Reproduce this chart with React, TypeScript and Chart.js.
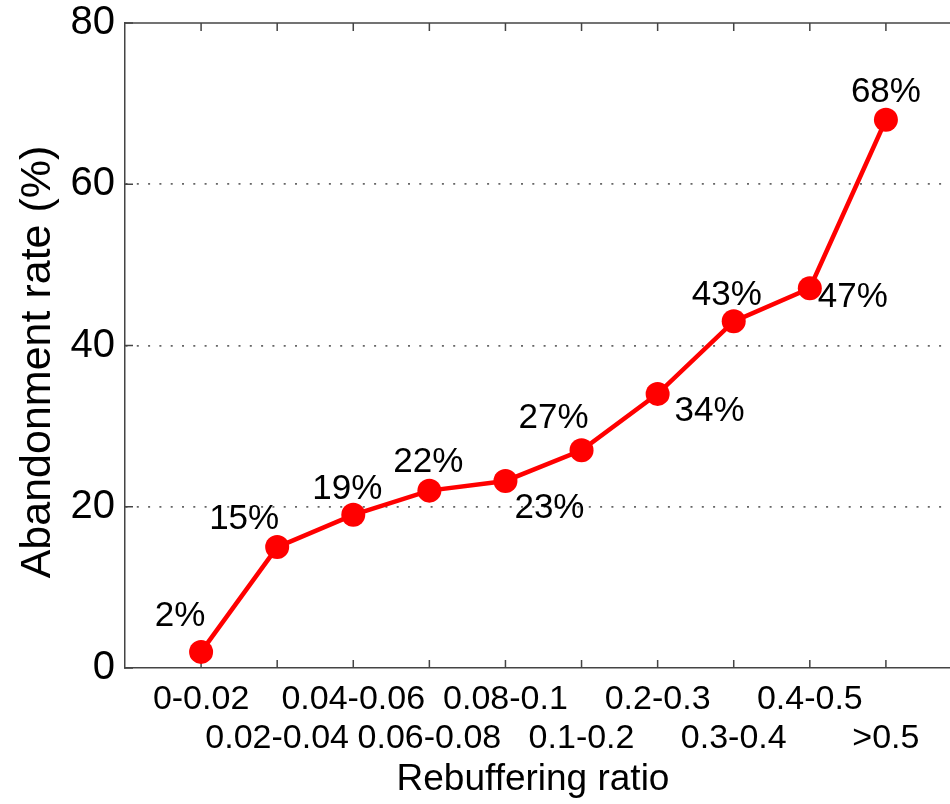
import React, { useEffect, useRef } from "react";
import { Chart, registerables } from "chart.js";

Chart.register(...registerables);

// ---- data ----
const categories = [
  "0-0.02",
  "0.02-0.04",
  "0.04-0.06",
  "0.06-0.08",
  "0.08-0.1",
  "0.1-0.2",
  "0.2-0.3",
  "0.3-0.4",
  "0.4-0.5",
  ">0.5",
];
const abandonmentRate = [2, 15, 19, 22, 23.2, 27, 34, 43, 47.1, 68];
const valueLabels = ["2%", "15%", "19%", "22%", "23%", "27%", "34%", "43%", "47%", "68%"];
const yTickValues = [0, 20, 40, 60, 80];
const xTitle = "Rebuffering ratio";
const yTitle = "Abandonment rate (%)";

// ---- label placement (pixel offsets from each point) ----
const labelOffsets: [number, number][] = [
  [-21, -36],
  [-33, -28],
  [-6, -25],
  [-1, -28],
  [44, 27],
  [-28, -32],
  [52, 17],
  [-7, -26],
  [43, 9],
  [0, -27],
];

const FONT = "'Liberation Sans', Arial, Helvetica, sans-serif";
const RED = "#ff0000";
const FRAME = "#444444";
const CANVAS_W = 962;
const CANVAS_H = 804;

const framePlugin = {
  id: "frameTicks",
  beforeDatasetsDraw(chart: any) {
    const { ctx, chartArea } = chart;
    const xs = chart.scales.x;
    const ys = chart.scales.y;
    ctx.save();
    ctx.strokeStyle = FRAME;
    ctx.lineWidth = 1.5;
    ctx.beginPath();
    ctx.moveTo(chartArea.left, chartArea.top);
    ctx.lineTo(chartArea.right, chartArea.top);
    ctx.stroke();
    categories.forEach((_, i) => {
      const px = xs.getPixelForValue(i);
      ctx.beginPath();
      ctx.moveTo(px, chartArea.bottom);
      ctx.lineTo(px, chartArea.bottom - 8);
      ctx.moveTo(px, chartArea.top);
      ctx.lineTo(px, chartArea.top + 8);
      ctx.stroke();
    });
    yTickValues.forEach((v) => {
      const py = ys.getPixelForValue(v);
      ctx.beginPath();
      ctx.moveTo(chartArea.left, py);
      ctx.lineTo(chartArea.left + 8, py);
      ctx.stroke();
    });
    ctx.restore();
  },
  afterDatasetsDraw(chart: any) {
    const { ctx } = chart;
    const meta = chart.getDatasetMeta(0);
    ctx.save();
    ctx.fillStyle = "#000";
    ctx.font = `35px ${FONT}`;
    ctx.textAlign = "center";
    ctx.textBaseline = "middle";
    meta.data.forEach((pt: any, i: number) => {
      const [dx, dy] = labelOffsets[i];
      ctx.fillText(valueLabels[i], pt.x + dx, pt.y + dy);
    });
    ctx.restore();
  },
  afterDraw(chart: any) {
    const { ctx } = chart;
    ctx.save();
    ctx.fillStyle = "#000";
    ctx.textAlign = "center";
    ctx.textBaseline = "alphabetic";
    ctx.font = `37px ${FONT}`;
    ctx.fillText(xTitle, 533, 790);
    ctx.translate(50, 362);
    ctx.rotate(-Math.PI / 2);
    ctx.font = `43px ${FONT}`;
    ctx.fillText(yTitle, 0, 0);
    ctx.restore();
  },
};

export default function App() {
  const canvasRef = useRef<HTMLCanvasElement | null>(null);

  useEffect(() => {
    const canvas = canvasRef.current;
    if (!canvas) return;
    const chart = new Chart(canvas, {
      type: "line",
      data: {
        datasets: [
          {
            data: abandonmentRate.map((v, i) => ({ x: i, y: v })),
            borderColor: RED,
            backgroundColor: RED,
            borderWidth: 4.5,
            pointRadius: 12,
            pointHoverRadius: 12,
            pointBorderWidth: 0,
            pointBackgroundColor: RED,
            tension: 0,
            clip: false as any,
          },
        ],
      },
      options: {
        animation: false,
        responsive: true,
        maintainAspectRatio: false,
        devicePixelRatio: 1,
        events: [],
        layout: { autoPadding: false, padding: { top: 23, left: 0, right: 0, bottom: 0 } },
        plugins: {
          legend: { display: false },
          tooltip: { enabled: false },
        },
        scales: {
          x: {
            type: "linear",
            min: -1,
            max: 10,
            bounds: "data",
            afterBuildTicks: (scale: any) => {
              scale.ticks = categories.map((_, i) => ({ value: i }));
            },
            afterFit: (scale: any) => {
              scale.height = 136;
              scale.paddingLeft = 0;
              scale.paddingRight = 0;
            },
            grid: { display: false, drawTicks: false },
            border: { display: true, color: FRAME, width: 1.5 },
            ticks: {
              autoSkip: false,
              maxRotation: 0,
              minRotation: 0,
              padding: 12,
              color: "#000",
              font: { family: FONT, size: 34, lineHeight: 1.15 },
              callback: (value: any) => {
                const i = Math.round(Number(value));
                const lab = categories[i] ?? "";
                return i % 2 === 0 ? [lab, ""] : ["", lab];
              },
            },
          },
          y: {
            min: 0,
            max: 80,
            afterBuildTicks: (scale: any) => {
              scale.ticks = yTickValues.map((v) => ({ value: v }));
            },
            afterFit: (scale: any) => {
              scale.width = 125;
              scale.paddingTop = 0;
              scale.paddingBottom = 0;
            },
            grid: {
              drawTicks: false,
              lineWidth: 1.8,
              color: (c: any) =>
                c.tick && (c.tick.value === 0 || c.tick.value === 80)
                  ? "rgba(0,0,0,0)"
                  : "#666666",
            },
            border: { display: true, color: FRAME, width: 1.5, dash: [2, 9.3] },
            ticks: {
              padding: 10,
              color: "#000",
              font: { family: FONT, size: 40, lineHeight: 1 },
              callback: (v: any) => String(v),
            },
          },
        },
      } as any,
      plugins: [framePlugin],
    });
    return () => chart.destroy();
  }, []);

  return (
    <div
      style={{
        position: "absolute",
        left: 0,
        top: 0,
        width: 950,
        height: CANVAS_H,
        overflow: "hidden",
        background: "#fff",
      }}
    >
      <div style={{ position: "relative", width: CANVAS_W, height: CANVAS_H }}>
        <canvas ref={canvasRef} />
      </div>
    </div>
  );
}
